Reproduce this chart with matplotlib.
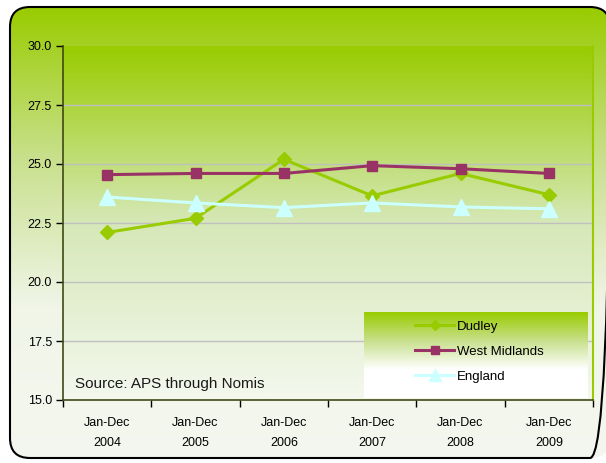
import numpy as np
import matplotlib as mpl
mpl.rcParams['font.family'] = ['Liberation Sans', 'DejaVu Sans']
import matplotlib.pyplot as plt
from matplotlib.patches import FancyBboxPatch
from matplotlib.colors import LinearSegmentedColormap

# Data
years = ['2004', '2005', '2006', '2007', '2008', '2009']
labels = ['Jan-Dec\n' + y for y in years]
dudley = [22.1, 22.7, 25.2, 23.65, 24.6, 23.7]
west_midlands = [24.55, 24.6, 24.6, 24.93, 24.8, 24.6]
england = [23.6, 23.35, 23.15, 23.35, 23.18, 23.1]

W, H = 606, 463
green_white = LinearSegmentedColormap.from_list('gw', ['#f4f8ee', '#d6e8b8', '#99cc00'])
grad = np.linspace(0, 1, 256).reshape(-1, 1)

fig = plt.figure(figsize=(W / 100, H / 100), dpi=100)
fig.patch.set_facecolor('white')

# Background with rounded border (pixel coordinates)
bg = fig.add_axes([0, 0, 1, 1], zorder=-10)
bg.set_xlim(0, W)
bg.set_ylim(H, 0)
bg.axis('off')
frame = FancyBboxPatch((10, 7), 600, 451, boxstyle='round,pad=0,rounding_size=20',
                       facecolor='none', edgecolor='black', lw=1.5, zorder=3)
bg.add_patch(frame)
fig_cmap = LinearSegmentedColormap.from_list('fg', ['#f4f7ef', '#f0f5e8', '#c8e08c', '#99cc00'])
im = bg.imshow(1 - grad, cmap=fig_cmap, extent=[10, 610, 458, 7], aspect='auto', origin='upper',
               vmin=0, vmax=1, zorder=1)
im.set_clip_path(frame)
bg.set_xlim(0, W)
bg.set_ylim(H, 0)

# Plot axes
left, right, top, bottom = 63, 593, 46, 400
ax = fig.add_axes([left / W, 1 - bottom / H, (right - left) / W, (bottom - top) / H])
ax.set_xlim(-0.5, 5.5)
ax.set_ylim(15, 30)
ax.imshow(grad, cmap=green_white, extent=[-0.5, 5.5, 15, 30], aspect='auto', origin='lower', zorder=0)

for yv in [17.5, 20.0, 22.5, 25.0, 27.5]:
    ax.axhline(yv, color='#c0c0c0', lw=1, zorder=1)

x = np.arange(len(years))
ax.plot(x, dudley, color='#99cc00', lw=2.2, marker='D', ms=7, label='Dudley', zorder=4)
ax.plot(x, west_midlands, color='#993366', lw=2.2, marker='s', ms=7, label='West Midlands', zorder=4)
ax.plot(x, england, color='#ccffff', lw=2.2, marker='^', ms=11, label='England', zorder=4)

# Axis styling
ax.spines['top'].set_visible(False)
ax.spines['right'].set_color('#99cc00')
ax.spines['right'].set_linewidth(1.5)
ax.spines['left'].set_color('#3f4a14')
ax.spines['bottom'].set_color('#3f4a14')
ax.spines['left'].set_linewidth(1.2)
ax.spines['bottom'].set_linewidth(1.2)

ax.set_yticks([15.0, 17.5, 20.0, 22.5, 25.0, 27.5, 30.0])
ax.set_yticklabels(['15.0', '17.5', '20.0', '22.5', '25.0', '27.5', '30.0'])
ax.tick_params(axis='y', direction='out', length=5, width=1, labelsize=9, pad=3)
ax.set_xticks(x)
ax.set_xticklabels(labels, linespacing=1.9)
ax.set_xticks(np.arange(-0.5, 6.0, 1.0), minor=True)
ax.tick_params(axis='x', which='major', length=0, labelsize=9, pad=12)
ax.tick_params(axis='x', which='minor', direction='out', length=5, width=1)

# Legend box with gradient
lx0, lx1, ly0, ly1 = 364, 588, 312, 398
lg_ax = fig.add_axes([lx0 / W, 1 - ly1 / H, (lx1 - lx0) / W, (ly1 - ly0) / H], zorder=5)
lg_ax.imshow(grad, cmap=LinearSegmentedColormap.from_list('lg', ['#ffffff', '#ffffff', '#c8e08c', '#99cc00']),
             extent=[0, 1, 0, 1], aspect='auto', origin='lower')
lg_ax.axis('off')
handles, names = ax.get_legend_handles_labels()
leg = fig.legend(handles, names, loc='upper left', bbox_to_anchor=(403 / W, 1 - 309 / H),
                 frameon=False, fontsize=9.5, handlelength=3.0, handletextpad=0.2, labelspacing=0.95,
                 markerscale=0.8)
leg.set_zorder(6)

ax.text(0.023, 0.025, 'Source: APS through Nomis', transform=ax.transAxes, fontsize=11,
        ha='left', va='bottom', color='#1a1a1a', zorder=7)

fig.savefig('out.png', dpi=100)
plt.close()
